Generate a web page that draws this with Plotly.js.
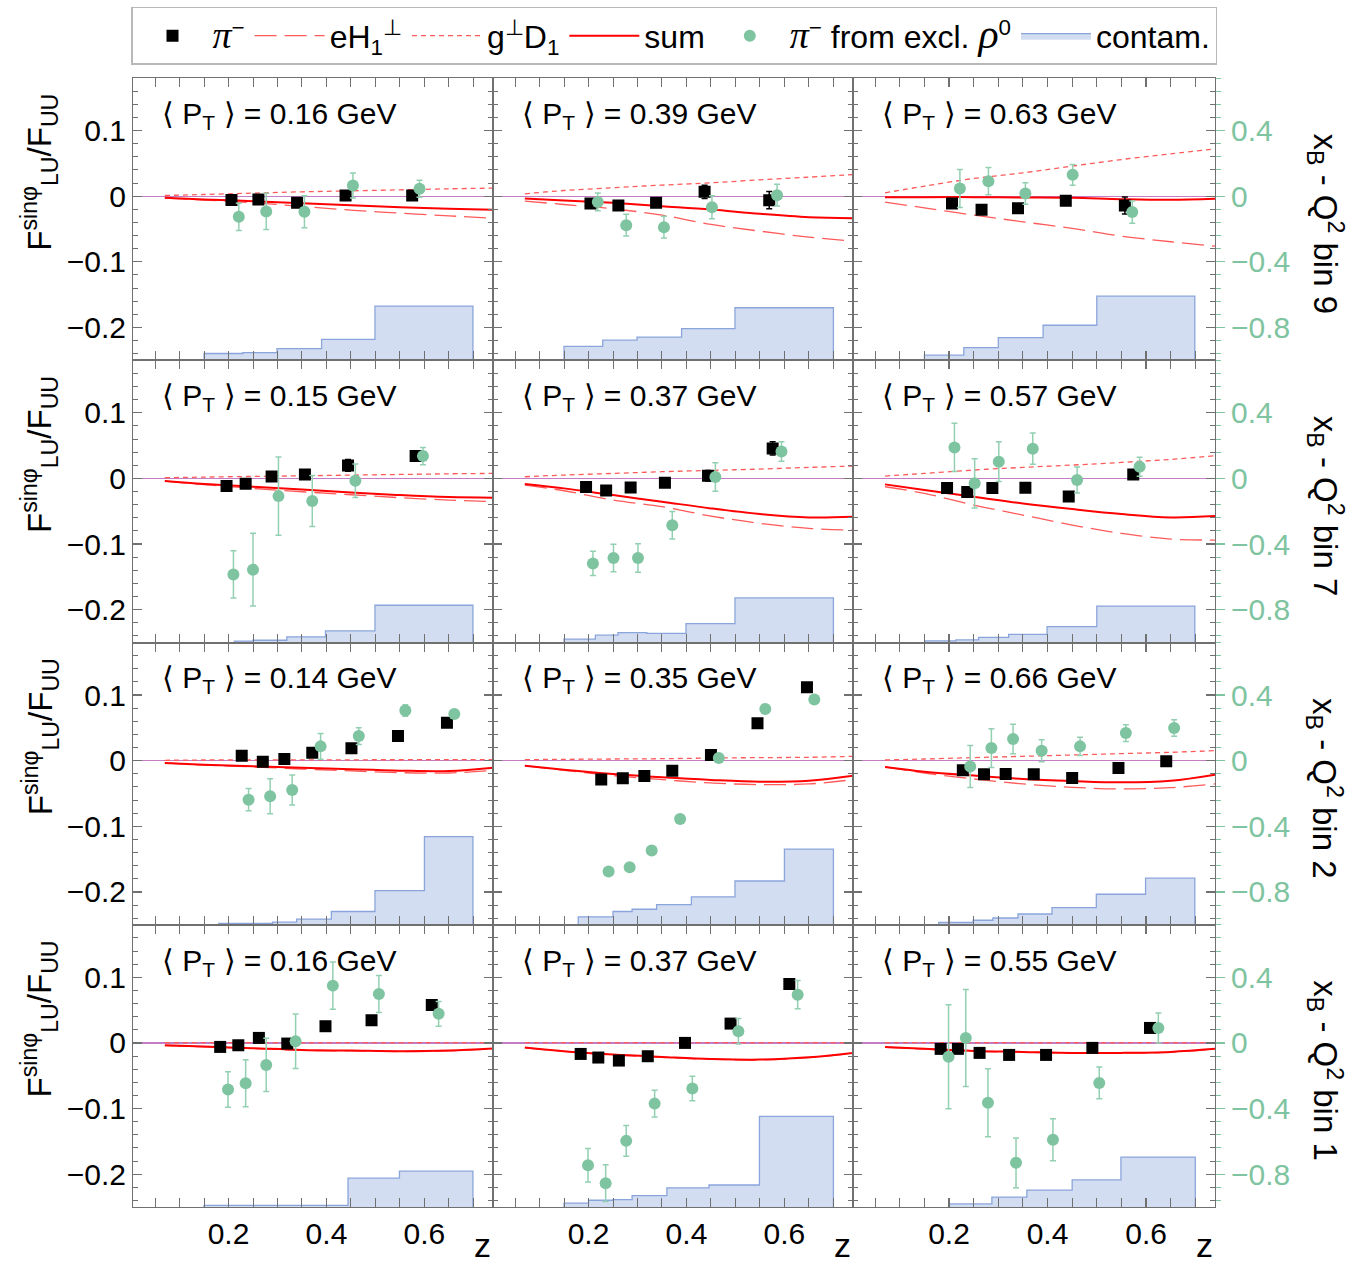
<!DOCTYPE html>
<html><head><meta charset="utf-8">
<script src="https://cdn.plot.ly/plotly-3.0.1.min.js"></script>
<style>body{margin:0;background:#fff}#chart{width:1353px;height:1268px}</style>
</head><body><div id="chart"></div>
<script>
// ---------------- data ----------------
const binLabels = ["9", "7", "2", "1"];
const ptLabels = [["0.16","0.39","0.63"],["0.15","0.37","0.57"],["0.14","0.35","0.66"],["0.16","0.37","0.55"]];
const curveZ = [0.07, 0.15, 0.25, 0.35, 0.45, 0.55, 0.65, 0.74];

// bin 9, <PT>=0.16
const b9a_piZ = [0.206,0.261,0.340,0.439,0.575];
const b9a_piA = [-0.006,-0.005,-0.010,0.001,0.001];
const b9a_piE = [0.005,0.004,0.004,0.005,0.006];
const b9a_rhoZ = [0.221,0.277,0.355,0.454,0.590];
const b9a_rhoA = [-0.126,-0.093,-0.095,0.065,0.045];
const b9a_rhoE = [0.083,0.110,0.097,0.076,0.052];
const b9a_sum = [-0.0025,-0.0051,-0.0076,-0.0107,-0.0137,-0.0168,-0.0193,-0.0208];
const b9a_eH = [-0.003,-0.006,-0.010,-0.0157,-0.0213,-0.0259,-0.030,-0.0335];
const b9a_gD = [0.001,0.0025,0.0046,0.0066,0.0081,0.0096,0.0112,0.0122];
const b9a_cEdges = [0.150,0.229,0.299,0.390,0.499,0.699];
const b9a_cFrac = [0.024,0.027,0.041,0.074,0.192];

// bin 9, <PT>=0.39
const b9b_piZ = [0.204,0.261,0.338,0.437,0.569];
const b9b_piA = [-0.0112,-0.0142,-0.0102,0.0066,-0.0061];
const b9b_piE = [0.004,0.004,0.004,0.010,0.013];
const b9b_rhoZ = [0.219,0.277,0.354,0.452,0.585];
const b9b_rhoA = [-0.035,-0.177,-0.189,-0.067,0.006];
const b9b_rhoE = [0.054,0.066,0.066,0.070,0.066];
const b9b_sum = [-0.0036,-0.0066,-0.0102,-0.0152,-0.0203,-0.0269,-0.0320,-0.0335];
const b9b_eH = [-0.0076,-0.0127,-0.0193,-0.0289,-0.0431,-0.0533,-0.0624,-0.0685];
const b9b_gD = [0.0036,0.0086,0.0127,0.0168,0.0203,0.0249,0.0289,0.033];
const b9b_cEdges = [0.150,0.229,0.299,0.390,0.499,0.700];
const b9b_cFrac = [0.049,0.071,0.082,0.112,0.186];

// bin 9, <PT>=0.63
const b9c_piZ = [0.206,0.266,0.340,0.437,0.557];
const b9c_piA = [-0.0112,-0.0208,-0.0183,-0.0071,-0.0142];
const b9c_piE = [0.006,0.004,0.004,0.005,0.013];
const b9c_rhoZ = [0.222,0.280,0.355,0.451,0.572];
const b9c_rhoA = [0.047,0.091,0.016,0.130,-0.097];
const b9c_rhoE = [0.116,0.083,0.066,0.063,0.068];
const b9c_sum = [-0.0015,-0.0015,-0.0015,-0.002,-0.0025,-0.0046,-0.0056,-0.004];
const b9c_eH = [-0.0091,-0.0178,-0.0289,-0.0391,-0.0492,-0.0609,-0.0695,-0.0761];
const b9c_gD = [0.0051,0.0152,0.0269,0.0355,0.0457,0.0558,0.0645,0.0721];
const b9c_cEdges = [0.150,0.230,0.300,0.391,0.500,0.699];
const b9c_cFrac = [0.018,0.045,0.080,0.124,0.227];

// bin 7, <PT>=0.15
const b7a_piZ = [0.196,0.235,0.288,0.356,0.444,0.582];
const b7a_piA = [-0.0117,-0.0081,0.0030,0.0061,0.0198,0.034];
const b7a_piE = [0.005,0.004,0.004,0.005,0.009,0.007];
const b7a_rhoZ = [0.210,0.250,0.302,0.371,0.459,0.597];
const b7a_rhoA = [-0.585,-0.556,-0.108,-0.138,-0.014,0.136];
const b7a_rhoE = [0.144,0.222,0.239,0.155,0.102,0.053];
const b7a_sum = [-0.0041,-0.0086,-0.0127,-0.0168,-0.0213,-0.0254,-0.0284,-0.0294];
const b7a_eH = [-0.0041,-0.0096,-0.0152,-0.0203,-0.0249,-0.0294,-0.033,-0.0355];
const b7a_gD = [0.001,0.002,0.003,0.004,0.005,0.006,0.007,0.0076];
const b7a_cEdges = [0.212,0.250,0.319,0.398,0.499,0.699];
const b7a_cFrac = [0.005,0.008,0.020,0.041,0.132];

// bin 7, <PT>=0.37
const b7b_piZ = [0.195,0.236,0.286,0.356,0.444,0.576];
const b7b_piA = [-0.0132,-0.0183,-0.0137,-0.0066,0.0041,0.0457];
const b7b_piE = [0.004,0.004,0.004,0.004,0.008,0.010];
const b7b_rhoZ = [0.209,0.251,0.301,0.371,0.459,0.594];
const b7b_rhoA = [-0.518,-0.485,-0.485,-0.286,0.008,0.164];
const b7b_rhoE = [0.074,0.084,0.087,0.084,0.087,0.060];
const b7b_sum = [-0.0086,-0.0152,-0.0254,-0.0355,-0.0457,-0.0543,-0.0594,-0.0584];
const b7b_eH = [-0.0102,-0.0188,-0.033,-0.0431,-0.0574,-0.0685,-0.0761,-0.0787];
const b7b_gD = [0.0025,0.0051,0.0076,0.0102,0.0122,0.0142,0.0168,0.0188];
const b7b_cEdges = [0.150,0.214,0.260,0.319,0.399,0.499,0.700];
const b7b_cFrac = [0.012,0.026,0.035,0.032,0.067,0.158];

// bin 7, <PT>=0.57
const b7c_piZ = [0.196,0.237,0.288,0.355,0.443,0.574];
const b7c_piA = [-0.0147,-0.0208,-0.0147,-0.0142,-0.0274,0.0061];
const b7c_piE = [0.004,0.004,0.004,0.004,0.004,0.006];
const b7c_rhoZ = [0.211,0.252,0.301,0.370,0.460,0.587];
const b7c_rhoA = [0.189,-0.030,0.102,0.181,-0.010,0.071];
const b7c_rhoE = [0.147,0.150,0.121,0.095,0.079,0.058];
const b7c_sum = [-0.0091,-0.0178,-0.0279,-0.0381,-0.0467,-0.0543,-0.0594,-0.0574];
const b7c_eH = [-0.0127,-0.0228,-0.0406,-0.0558,-0.0711,-0.0838,-0.0924,-0.0939];
const b7c_gD = [0.0036,0.0076,0.0127,0.0168,0.0203,0.0244,0.0289,0.0345];
const b7c_cEdges = [0.152,0.214,0.260,0.321,0.399,0.500,0.699];
const b7c_cFrac = [0.006,0.009,0.018,0.029,0.056,0.129];

// bin 2, <PT>=0.14
const b2a_piZ = [0.227,0.270,0.314,0.371,0.451,0.546,0.646];
const b2a_piA = [0.0076,-0.0015,0.0025,0.0122,0.0188,0.0376,0.0579];
const b2a_piE = [0.004,0.004,0.004,0.004,0.004,0.004,0.005];
const b2a_rhoZ = [0.241,0.285,0.330,0.388,0.466,0.561,0.661];
const b2a_rhoA = [-0.238,-0.217,-0.179,0.087,0.150,0.305,0.284];
const b2a_rhoE = [0.068,0.106,0.091,0.078,0.051,0.035,0.024];
const b2a_sum = [-0.0036,-0.0061,-0.0086,-0.0107,-0.0132,-0.0152,-0.0157,-0.0107];
const b2a_eH = [-0.0036,-0.0066,-0.0096,-0.0127,-0.0157,-0.0183,-0.0188,-0.0147];
const b2a_gD = [0.0005,0.001,0.001,0.0012,0.0013,0.0014,0.0015,0.0015];
const b2a_cEdges = [0.180,0.290,0.339,0.410,0.499,0.600,0.699];
const b2a_cFrac = [0.005,0.009,0.020,0.047,0.121,0.312];

// bin 2, <PT>=0.35
const b2b_piZ = [0.226,0.270,0.314,0.371,0.450,0.545,0.646];
const b2b_piA = [-0.0289,-0.0269,-0.0234,-0.0152,0.0086,0.0569,0.1117];
const b2b_piE = [0.004,0.004,0.004,0.004,0.004,0.004,0.006];
const b2b_rhoZ = [0.241,0.284,0.329,0.387,0.466,0.561,0.661];
const b2b_rhoA = [-0.676,-0.650,-0.548,-0.355,0.016,0.315,0.372];
const b2b_rhoE = [0.02,0.02,0.02,0.02,0.02,0.02,0.02];
const b2b_sum = [-0.0076,-0.0137,-0.0203,-0.0254,-0.0294,-0.032,-0.0305,-0.0228];
const b2b_eH = [-0.0076,-0.0147,-0.0228,-0.0289,-0.034,-0.0365,-0.0355,-0.0289];
const b2b_gD = [0.0015,0.002,0.0025,0.003,0.004,0.0046,0.0051,0.0066];
const b2b_cEdges = [0.179,0.250,0.289,0.339,0.410,0.499,0.600,0.700];
const b2b_cFrac = [0.028,0.047,0.055,0.071,0.099,0.155,0.268];

// bin 2, <PT>=0.66
const b2c_piZ = [0.228,0.271,0.315,0.372,0.450,0.544,0.641];
const b2c_piA = [-0.0147,-0.0208,-0.0203,-0.0208,-0.0264,-0.0112,-0.001];
const b2c_piE = [0.004,0.004,0.004,0.004,0.004,0.004,0.004];
const b2c_rhoZ = [0.243,0.286,0.330,0.388,0.466,0.559,0.657];
const b2c_rhoA = [-0.035,0.077,0.132,0.061,0.087,0.168,0.199];
const b2c_rhoE = [0.128,0.118,0.090,0.067,0.056,0.051,0.050];
const b2c_sum = [-0.0096,-0.0168,-0.0228,-0.0279,-0.031,-0.033,-0.0305,-0.0213];
const b2c_eH = [-0.0096,-0.0188,-0.0279,-0.0355,-0.0406,-0.0431,-0.0411,-0.0355];
const b2c_gD = [0.001,0.0025,0.0046,0.0066,0.0086,0.0107,0.0127,0.0152];
const b2c_cEdges = [0.179,0.249,0.289,0.340,0.409,0.499,0.599,0.699];
const b2c_cFrac = [0.008,0.016,0.024,0.038,0.061,0.108,0.165];

// bin 1, <PT>=0.16
const b1a_piZ = [0.183,0.220,0.262,0.320,0.398,0.492,0.615];
const b1a_piA = [-0.0061,-0.0036,0.0076,-0.001,0.0254,0.0345,0.0579];
const b1a_piE = [0.004,0.004,0.004,0.004,0.004,0.004,0.006];
const b1a_rhoZ = [0.199,0.235,0.277,0.337,0.413,0.507,0.629];
const b1a_rhoA = [-0.284,-0.246,-0.134,0.010,0.349,0.298,0.177];
const b1a_rhoE = [0.108,0.143,0.162,0.166,0.144,0.113,0.075];
const b1a_sum = [-0.0036,-0.0056,-0.0081,-0.0107,-0.0117,-0.0127,-0.0117,-0.0086];
const b1a_eH = [-0.004,-0.006,-0.0086,-0.0112,-0.0122,-0.0132,-0.0122,-0.009];
const b1a_gD = [0.0004,0.0004,0.0005,0.0005,0.0005,0.0005,0.0005,0.0005];
const b1a_cEdges = [0.150,0.444,0.549,0.699];
const b1a_cFrac = [0.006,0.102,0.127];

// bin 1, <PT>=0.37
const b1b_piZ = [0.184,0.220,0.262,0.321,0.397,0.490,0.610];
const b1b_piA = [-0.0168,-0.0223,-0.0269,-0.0203,0.0,0.0294,0.0898];
const b1b_piE = [0.004,0.004,0.004,0.004,0.004,0.004,0.006];
const b1b_rhoZ = [0.199,0.235,0.277,0.335,0.412,0.506,0.627];
const b1b_rhoA = [-0.745,-0.855,-0.597,-0.370,-0.278,0.071,0.294];
const b1b_rhoE = [0.102,0.112,0.094,0.081,0.075,0.077,0.086];
const b1b_sum = [-0.0071,-0.0127,-0.0178,-0.0213,-0.0244,-0.0254,-0.0218,-0.0152];
const b1b_eH = [-0.0075,-0.013,-0.0183,-0.022,-0.025,-0.026,-0.0225,-0.016];
const b1b_gD = [0.0004,0.0004,0.0005,0.0005,0.0005,0.0005,0.0005,0.0005];
const b1b_cEdges = [0.150,0.200,0.250,0.289,0.360,0.446,0.549,0.700];
const b1b_cFrac = [0.014,0.024,0.026,0.040,0.068,0.078,0.321];

// bin 1, <PT>=0.55
const b1c_piZ = [0.183,0.218,0.262,0.322,0.397,0.491,0.608];
const b1c_piA = [-0.0091,-0.0091,-0.0152,-0.0183,-0.0183,-0.0076,0.0228];
const b1c_piE = [0.004,0.004,0.004,0.004,0.004,0.004,0.004];
const b1c_rhoZ = [0.199,0.234,0.279,0.336,0.411,0.505,0.625];
const b1c_rhoA = [-0.085,0.030,-0.365,-0.731,-0.590,-0.244,0.091];
const b1c_rhoE = [0.317,0.295,0.207,0.152,0.128,0.097,0.091];
const b1c_sum = [-0.0061,-0.0091,-0.0122,-0.0137,-0.0152,-0.0152,-0.0137,-0.0091];
const b1c_eH = [-0.0066,-0.0096,-0.0127,-0.0142,-0.0157,-0.0157,-0.0142,-0.0096];
const b1c_gD = [0.0005,0.0005,0.0005,0.0005,0.0005,0.0005,0.0005,0.0005];
const b1c_cEdges = [0.201,0.287,0.358,0.450,0.549,0.700];
const b1c_cFrac = [0.011,0.035,0.060,0.096,0.177];

// panels in reading order (rows: bin 9, 7, 2, 1; cols: increasing <PT>)
const panels = [
  [b9a_piZ,b9a_piA,b9a_piE,b9a_rhoZ,b9a_rhoA,b9a_rhoE,b9a_sum,b9a_eH,b9a_gD,b9a_cEdges,b9a_cFrac],
  [b9b_piZ,b9b_piA,b9b_piE,b9b_rhoZ,b9b_rhoA,b9b_rhoE,b9b_sum,b9b_eH,b9b_gD,b9b_cEdges,b9b_cFrac],
  [b9c_piZ,b9c_piA,b9c_piE,b9c_rhoZ,b9c_rhoA,b9c_rhoE,b9c_sum,b9c_eH,b9c_gD,b9c_cEdges,b9c_cFrac],
  [b7a_piZ,b7a_piA,b7a_piE,b7a_rhoZ,b7a_rhoA,b7a_rhoE,b7a_sum,b7a_eH,b7a_gD,b7a_cEdges,b7a_cFrac],
  [b7b_piZ,b7b_piA,b7b_piE,b7b_rhoZ,b7b_rhoA,b7b_rhoE,b7b_sum,b7b_eH,b7b_gD,b7b_cEdges,b7b_cFrac],
  [b7c_piZ,b7c_piA,b7c_piE,b7c_rhoZ,b7c_rhoA,b7c_rhoE,b7c_sum,b7c_eH,b7c_gD,b7c_cEdges,b7c_cFrac],
  [b2a_piZ,b2a_piA,b2a_piE,b2a_rhoZ,b2a_rhoA,b2a_rhoE,b2a_sum,b2a_eH,b2a_gD,b2a_cEdges,b2a_cFrac],
  [b2b_piZ,b2b_piA,b2b_piE,b2b_rhoZ,b2b_rhoA,b2b_rhoE,b2b_sum,b2b_eH,b2b_gD,b2b_cEdges,b2b_cFrac],
  [b2c_piZ,b2c_piA,b2c_piE,b2c_rhoZ,b2c_rhoA,b2c_rhoE,b2c_sum,b2c_eH,b2c_gD,b2c_cEdges,b2c_cFrac],
  [b1a_piZ,b1a_piA,b1a_piE,b1a_rhoZ,b1a_rhoA,b1a_rhoE,b1a_sum,b1a_eH,b1a_gD,b1a_cEdges,b1a_cFrac],
  [b1b_piZ,b1b_piA,b1b_piE,b1b_rhoZ,b1b_rhoA,b1b_rhoE,b1b_sum,b1b_eH,b1b_gD,b1b_cEdges,b1b_cFrac],
  [b1c_piZ,b1c_piA,b1c_piE,b1c_rhoZ,b1c_rhoA,b1c_rhoE,b1c_sum,b1c_eH,b1c_gD,b1c_cEdges,b1c_cFrac]
];

// ---------------- styling ----------------
const FONT = "Liberation Sans, Arial, Helvetica, sans-serif";
const GREEN = "#7fc4a0";
const GREEN_ERR = "#93d0b2";
const RED = "#ff0000";
const RED_L = "#ff5a5a";
const FRAME = "#707070";
const colDom = [[0, 360/1082], [360/1082, 720/1082], [720/1082, 1]];
const rowDom = [[0.75, 1], [0.5, 0.75], [0.25, 0.5], [0, 0.25]];

const traces = [];
const layout = {
  width: 1353, height: 1268,
  margin: {l: 133, r: 138, t: 78, b: 61, autoexpand: false},
  paper_bgcolor: "#fff", plot_bgcolor: "rgba(0,0,0,0)",
  font: {family: FONT, size: 30, color: "#000"},
  showlegend: true,
  legend: {orientation: "h", x: 0.5, xanchor: "center", y: 1.063, yanchor: "top",
           bordercolor: "#b8b8b8", borderwidth: 1.5, bgcolor: "#fff",
           font: {family: FONT, size: 32, color: "#000"}, itemwidth: 70},
  annotations: []
};

panels.forEach((p, i) => {
  const r = Math.floor(i / 3), c = i % 3, k = i + 1;
  const id = k === 1 ? "" : String(k);
  const idL = String(k + 12), idG = String(k + 24);
  const [piZ, piA, piE, rhoZ, rhoA, rhoE, sum, eH, gD, cEdges, cFrac] = p;
  const lg = k === 1;

  // contamination histogram (step outline), own hidden axis: 0 at panel bottom
  const cx = [cEdges[0]].concat(cEdges.slice(0, cEdges.length - 1), [cEdges[cEdges.length - 1]]);
  const cy = [0].concat(cFrac, [0]);
  traces.push({type: "scatter", mode: "lines", x: cx, y: cy, xaxis: "x" + id, yaxis: "y" + id,
    line: {shape: "hv", color: "#8aa5db", width: 1.3}, fill: "tozeroy", fillcolor: "#d3ddf1",
    name: "contam.", showlegend: lg, legendrank: 6, hoverinfo: "skip"});

  traces.push({type: "scatter", mode: "lines", x: curveZ, y: eH, xaxis: "x" + id, yaxis: "y" + idL,
    line: {color: RED_L, width: 1.3, dash: "22px,8px", shape: "spline"},
    name: "eH<sub>1</sub><sup>⊥</sup>", showlegend: lg, legendrank: 2});
  traces.push({type: "scatter", mode: "lines", x: curveZ, y: gD, xaxis: "x" + id, yaxis: "y" + idL,
    line: {color: RED_L, width: 1.3, dash: "5px,4px", shape: "spline"},
    name: "g<sup>⊥</sup>D<sub>1</sub>", showlegend: lg, legendrank: 3});
  traces.push({type: "scatter", mode: "lines", x: curveZ, y: sum, xaxis: "x" + id, yaxis: "y" + idL,
    line: {color: RED, width: 2, shape: "spline"},
    name: "sum", showlegend: lg, legendrank: 4});
  traces.push({type: "scatter", mode: "markers", x: piZ, y: piA, xaxis: "x" + id, yaxis: "y" + idL,
    marker: {symbol: "square", size: 12, color: "#000"},
    error_y: {type: "data", array: piE, color: "#000", thickness: 1.5, width: 3},
    name: '<span style="font-family:Liberation Serif;font-size:38px"><i>π</i></span><sup>−</sup>', showlegend: lg, legendrank: 1});
  traces.push({type: "scatter", mode: "markers", x: rhoZ, y: rhoA, xaxis: "x" + id, yaxis: "y" + idG,
    marker: {symbol: "circle", size: 12, color: GREEN},
    error_y: {type: "data", array: rhoE, color: GREEN_ERR, thickness: 1.5, width: 3},
    name: '<span style="font-family:Liberation Serif;font-size:38px"><i>π</i></span><sup>−</sup> from excl. <span style="font-family:Liberation Serif;font-size:42px"><i>ρ</i></span><sup>0</sup>',
    showlegend: lg, legendrank: 5});

  layout["xaxis" + id] = {domain: colDom[c], anchor: "y" + id, range: [0.005, 0.74],
    tick0: 0, dtick: 0.2, ticks: "inside", ticklen: 9, tickcolor: FRAME, tickwidth: 1.2,
    minor: {dtick: 0.05, ticks: "inside", ticklen: 5, tickcolor: FRAME, tickwidth: 1},
    mirror: "allticks", showline: true, linecolor: FRAME, linewidth: 1,
    showgrid: false, zeroline: false, showticklabels: r === 3,
    tickfont: {family: FONT, size: 30, color: "#000"}};
  layout["yaxis" + id] = {domain: rowDom[r], anchor: "x" + id, range: [0, 1], visible: false, fixedrange: true};
  layout["yaxis" + idL] = {overlaying: "y" + id, anchor: "x" + id, side: "left", range: [-0.25, 0.18],
    tick0: 0, dtick: 0.1, ticks: "inside", ticklen: 9, tickcolor: FRAME, tickwidth: 1.2,
    minor: {dtick: 0.02, ticks: "inside", ticklen: 5, tickcolor: FRAME, tickwidth: 1},
    mirror: "allticks", showline: true, linecolor: FRAME, linewidth: 1,
    showgrid: false, zeroline: true, zerolinecolor: "#c47cc4", zerolinewidth: 1.2,
    showticklabels: c === 0, tickfont: {family: FONT, size: 30, color: "#000"}};
  layout["yaxis" + idG] = {overlaying: "y" + id, anchor: "x" + id, side: "right", range: [-1.0, 0.72],
    visible: c === 2, tick0: 0, dtick: 0.4, ticks: "outside", ticklen: 9, tickcolor: GREEN, tickwidth: 1.3,
    minor: {dtick: 0.08, ticks: "outside", ticklen: 5, tickcolor: GREEN, tickwidth: 1},
    showline: false, showgrid: false, zeroline: false,
    tickfont: {family: FONT, size: 30, color: GREEN}};

  layout.annotations.push({xref: "x" + id + " domain", yref: "y" + id + " domain", x: 0.075, y: 0.94,
    xanchor: "left", yanchor: "top", showarrow: false,
    text: "⟨ P<sub>T</sub> ⟩ = " + ptLabels[r][c] + " GeV", font: {family: FONT, size: 30, color: "#000"}});
});

// row labels
binLabels.forEach((b, r) => {
  const yc = 1 - (r + 0.5) / 4;
  layout.annotations.push({xref: "paper", yref: "paper", x: -0.086, y: yc + 0.042, xanchor: "center", yanchor: "middle",
    showarrow: false, textangle: -90,
    text: "F<sup>sinφ</sup><sub>LU</sub>/F<sub>UU</sub>", font: {family: FONT, size: 33, color: "#000"}});
  layout.annotations.push({xref: "paper", yref: "paper", x: 1.1017, y: yc - 0.004, xanchor: "center", yanchor: "middle",
    showarrow: false, textangle: 90,
    text: "x<sub>B</sub> - Q<sup>2</sup> bin " + b, font: {family: FONT, size: 33, color: "#000"}});
});
// z axis labels
["10", "11", "12"].forEach(id => {
  layout.annotations.push({xref: "x" + id + " domain", yref: "paper", x: 0.972, y: -0.052,
    xanchor: "center", yanchor: "bottom", showarrow: false, text: "z",
    font: {family: FONT, size: 34, color: "#000"}});
});

Plotly.newPlot("chart", traces, layout, {displayModeBar: false, staticPlot: true});
</script>
</body></html>
